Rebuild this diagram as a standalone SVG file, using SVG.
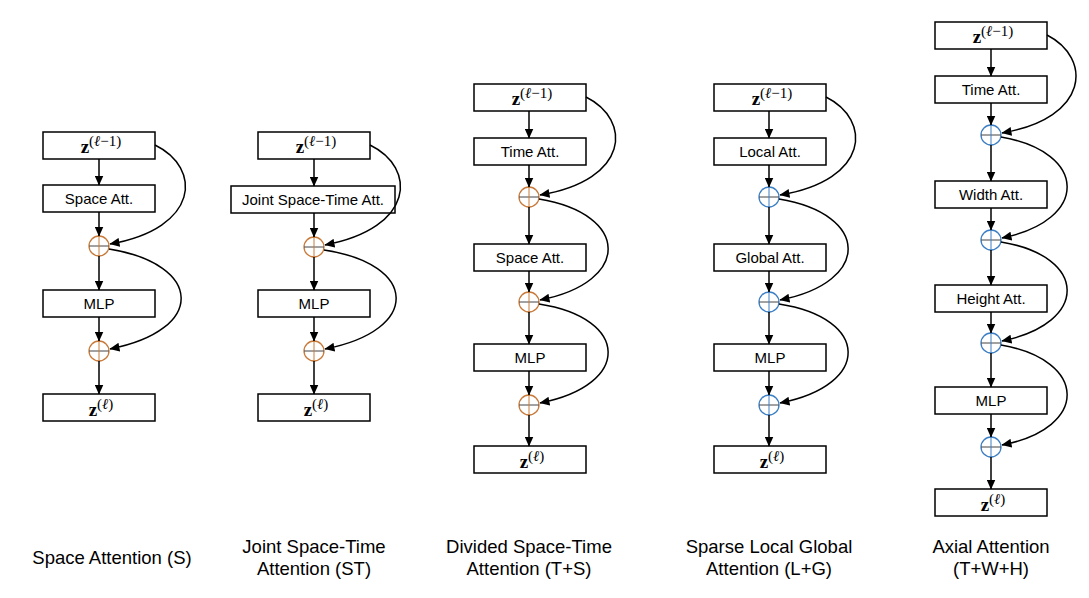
<svg xmlns="http://www.w3.org/2000/svg" width="1089" height="598" viewBox="0 0 1089 598">
<defs>
<marker id="ah" markerUnits="userSpaceOnUse" markerWidth="10" markerHeight="9" refX="9.5" refY="4.5" orient="auto">
<path d="M0,0 L10,4.5 L0,9 z" fill="#000"/>
</marker>
<style>
.box{fill:#fff;stroke:#000;stroke-width:1.5}
.lbl{font-family:"Liberation Sans",Arial,sans-serif;font-size:15px;fill:#000;text-anchor:middle}
.cap{font-family:"Liberation Sans",Arial,sans-serif;font-size:18.5px;fill:#000;text-anchor:middle}
.z{font-family:"Liberation Serif","Times New Roman",serif;font-size:19px;fill:#000;text-anchor:middle}
.zb{font-weight:bold}
.sup{font-size:15px}
.ell{font-style:italic}
.con{fill:none;stroke:#000;stroke-width:1.5}
.arr{fill:none;stroke:#000;stroke-width:1.5;marker-end:url(#ah)}
.po{fill:#fff;stroke:#c87a3a;stroke-width:1.3}
.pb{fill:#fff;stroke:#3d7fc4;stroke-width:1.3}
.cx{stroke:#444;stroke-width:1}
.cyo{stroke:#c87a3a;stroke-width:1}
.cyb{stroke:#3d7fc4;stroke-width:1}
</style>
</defs>
<rect width="1089" height="598" fill="#fff"/>

<!-- Column 1 -->
<g id="c1_zin"><rect class="box" x="43" y="132" width="112" height="27"/><text class="z" x="101" y="153"><tspan class="zb">z</tspan><tspan class="sup" dy="-7">(<tspan class="ell">ℓ</tspan>−1)</tspan></text></g>
<g id="c1_space"><rect class="box" x="43" y="185" width="112" height="27"/><text class="lbl" x="99" y="204">Space Att.</text></g>
<g id="c1_add1"><circle class="po" cx="99" cy="246" r="10"/><line class="cx" x1="89" y1="246" x2="109" y2="246"/><line class="cyo" x1="99" y1="236" x2="99" y2="256"/></g>
<g id="c1_mlp"><rect class="box" x="43" y="290" width="112" height="27"/><text class="lbl" x="99" y="309">MLP</text></g>
<g id="c1_add2"><circle class="po" cx="99" cy="351" r="10"/><line class="cx" x1="89" y1="351" x2="109" y2="351"/><line class="cyo" x1="99" y1="341" x2="99" y2="361"/></g>
<g id="c1_zout"><rect class="box" x="43" y="394" width="112" height="27"/><text class="z" x="101" y="416"><tspan class="zb">z</tspan><tspan class="sup" dy="-7">(<tspan class="ell">ℓ</tspan>)</tspan></text></g>
<g id="c1_cap"><text class="cap" x="112" y="564">Space Attention (S)</text></g>

<!-- Column 2 -->
<g id="c2_zin"><rect class="box" x="258" y="132" width="112" height="27"/><text class="z" x="316" y="153"><tspan class="zb">z</tspan><tspan class="sup" dy="-7">(<tspan class="ell">ℓ</tspan>−1)</tspan></text></g>
<g id="c2_joint"><rect class="box" x="231" y="186" width="164" height="27"/><text class="lbl" x="313" y="205">Joint Space-Time Att.</text></g>
<g id="c2_add1"><circle class="po" cx="314" cy="247" r="10"/><line class="cx" x1="304" y1="247" x2="324" y2="247"/><line class="cyo" x1="314" y1="237" x2="314" y2="257"/></g>
<g id="c2_mlp"><rect class="box" x="258" y="290" width="112" height="27"/><text class="lbl" x="314" y="309">MLP</text></g>
<g id="c2_add2"><circle class="po" cx="314" cy="351" r="10"/><line class="cx" x1="304" y1="351" x2="324" y2="351"/><line class="cyo" x1="314" y1="341" x2="314" y2="361"/></g>
<g id="c2_zout"><rect class="box" x="258" y="394" width="112" height="27"/><text class="z" x="316" y="416"><tspan class="zb">z</tspan><tspan class="sup" dy="-7">(<tspan class="ell">ℓ</tspan>)</tspan></text></g>
<g id="c2_cap"><text class="cap" x="314" y="553">Joint Space-Time</text><text class="cap" x="314" y="575">Attention (ST)</text></g>

<!-- Column 3 -->
<g id="c3_zin"><rect class="box" x="474" y="84" width="112" height="27"/><text class="z" x="532" y="105"><tspan class="zb">z</tspan><tspan class="sup" dy="-7">(<tspan class="ell">ℓ</tspan>−1)</tspan></text></g>
<g id="c3_time"><rect class="box" x="474" y="138" width="112" height="27"/><text class="lbl" x="530" y="157">Time Att.</text></g>
<g id="c3_add1"><circle class="po" cx="529" cy="197" r="10"/><line class="cx" x1="519" y1="197" x2="539" y2="197"/><line class="cyo" x1="529" y1="187" x2="529" y2="207"/></g>
<g id="c3_space"><rect class="box" x="474" y="244" width="112" height="27"/><text class="lbl" x="530" y="263">Space Att.</text></g>
<g id="c3_add2"><circle class="po" cx="529" cy="302" r="10"/><line class="cx" x1="519" y1="302" x2="539" y2="302"/><line class="cyo" x1="529" y1="292" x2="529" y2="312"/></g>
<g id="c3_mlp"><rect class="box" x="474" y="344" width="112" height="27"/><text class="lbl" x="530" y="363">MLP</text></g>
<g id="c3_add3"><circle class="po" cx="529" cy="405" r="10"/><line class="cx" x1="519" y1="405" x2="539" y2="405"/><line class="cyo" x1="529" y1="395" x2="529" y2="415"/></g>
<g id="c3_zout"><rect class="box" x="474" y="446" width="112" height="27"/><text class="z" x="532" y="468"><tspan class="zb">z</tspan><tspan class="sup" dy="-7">(<tspan class="ell">ℓ</tspan>)</tspan></text></g>
<g id="c3_cap"><text class="cap" x="529" y="553">Divided Space-Time</text><text class="cap" x="529" y="575">Attention (T+S)</text></g>

<!-- Column 4 -->
<g id="c4_zin"><rect class="box" x="714" y="84" width="112" height="27"/><text class="z" x="772" y="105"><tspan class="zb">z</tspan><tspan class="sup" dy="-7">(<tspan class="ell">ℓ</tspan>−1)</tspan></text></g>
<g id="c4_local"><rect class="box" x="714" y="138" width="112" height="27"/><text class="lbl" x="770" y="157">Local Att.</text></g>
<g id="c4_add1"><circle class="pb" cx="769" cy="197" r="10"/><line class="cx" x1="759" y1="197" x2="779" y2="197"/><line class="cyb" x1="769" y1="187" x2="769" y2="207"/></g>
<g id="c4_global"><rect class="box" x="714" y="244" width="112" height="27"/><text class="lbl" x="770" y="263">Global Att.</text></g>
<g id="c4_add2"><circle class="pb" cx="769" cy="302" r="10"/><line class="cx" x1="759" y1="302" x2="779" y2="302"/><line class="cyb" x1="769" y1="292" x2="769" y2="312"/></g>
<g id="c4_mlp"><rect class="box" x="714" y="344" width="112" height="27"/><text class="lbl" x="770" y="363">MLP</text></g>
<g id="c4_add3"><circle class="pb" cx="769" cy="405" r="10"/><line class="cx" x1="759" y1="405" x2="779" y2="405"/><line class="cyb" x1="769" y1="395" x2="769" y2="415"/></g>
<g id="c4_zout"><rect class="box" x="714" y="446" width="112" height="27"/><text class="z" x="772" y="468"><tspan class="zb">z</tspan><tspan class="sup" dy="-7">(<tspan class="ell">ℓ</tspan>)</tspan></text></g>
<g id="c4_cap"><text class="cap" x="769" y="553">Sparse Local Global</text><text class="cap" x="769" y="575">Attention (L+G)</text></g>

<!-- Column 5 -->
<g id="c5_zin"><rect class="box" x="935" y="22" width="112" height="27"/><text class="z" x="993" y="43"><tspan class="zb">z</tspan><tspan class="sup" dy="-7">(<tspan class="ell">ℓ</tspan>−1)</tspan></text></g>
<g id="c5_time"><rect class="box" x="935" y="76" width="112" height="27"/><text class="lbl" x="991" y="95">Time Att.</text></g>
<g id="c5_add1"><circle class="pb" cx="991" cy="135" r="10"/><line class="cx" x1="981" y1="135" x2="1001" y2="135"/><line class="cyb" x1="991" y1="125" x2="991" y2="145"/></g>
<g id="c5_width"><rect class="box" x="935" y="181" width="112" height="27"/><text class="lbl" x="991" y="200">Width Att.</text></g>
<g id="c5_add2"><circle class="pb" cx="991" cy="240" r="10"/><line class="cx" x1="981" y1="240" x2="1001" y2="240"/><line class="cyb" x1="991" y1="230" x2="991" y2="250"/></g>
<g id="c5_height"><rect class="box" x="935" y="285" width="112" height="27"/><text class="lbl" x="991" y="304">Height Att.</text></g>
<g id="c5_add3"><circle class="pb" cx="991" cy="343" r="10"/><line class="cx" x1="981" y1="343" x2="1001" y2="343"/><line class="cyb" x1="991" y1="333" x2="991" y2="353"/></g>
<g id="c5_mlp"><rect class="box" x="935" y="387" width="112" height="27"/><text class="lbl" x="991" y="406">MLP</text></g>
<g id="c5_add4"><circle class="pb" cx="991" cy="447" r="10"/><line class="cx" x1="981" y1="447" x2="1001" y2="447"/><line class="cyb" x1="991" y1="437" x2="991" y2="457"/></g>
<g id="c5_zout"><rect class="box" x="935" y="489" width="112" height="27"/><text class="z" x="993" y="511"><tspan class="zb">z</tspan><tspan class="sup" dy="-7">(<tspan class="ell">ℓ</tspan>)</tspan></text></g>
<g id="c5_cap"><text class="cap" x="991" y="553">Axial Attention</text><text class="cap" x="991" y="575">(T+W+H)</text></g>

<g id="connectors">
<!-- col1 -->
<line class="arr" x1="99" y1="159" x2="99" y2="185"/>
<line class="arr" x1="99" y1="212" x2="99" y2="236"/>
<line class="arr" x1="99" y1="256" x2="99" y2="290"/>
<line class="arr" x1="99" y1="317" x2="99" y2="341"/>
<line class="arr" x1="99" y1="361" x2="99" y2="394"/>
<path class="arr" d="M155,145 C202,168 200,228 110,244"/>
<path class="arr" d="M109,249 C203,264 207,330 110,349"/>
<!-- col2 -->
<line class="arr" x1="314" y1="159" x2="314" y2="186"/>
<line class="arr" x1="314" y1="213" x2="314" y2="237"/>
<line class="arr" x1="314" y1="257" x2="314" y2="290"/>
<line class="arr" x1="314" y1="317" x2="314" y2="341"/>
<line class="arr" x1="314" y1="361" x2="314" y2="394"/>
<path class="arr" d="M370,145 C417,168 415,228 325,245"/>
<path class="arr" d="M324,250 C418,264 422,330 325,349"/>
<!-- col3 -->
<line class="arr" x1="529" y1="111" x2="529" y2="138"/>
<line class="arr" x1="529" y1="165" x2="529" y2="187"/>
<line class="arr" x1="529" y1="207" x2="529" y2="244"/>
<line class="arr" x1="529" y1="271" x2="529" y2="292"/>
<line class="arr" x1="529" y1="312" x2="529" y2="344"/>
<line class="arr" x1="529" y1="371" x2="529" y2="395"/>
<line class="arr" x1="529" y1="415" x2="529" y2="446"/>
<path class="arr" d="M586,97 C632,120 630,180 540,195"/>
<path class="arr" d="M539,199 C630,214 632,282 540,300"/>
<path class="arr" d="M539,304 C630,318 632,385 540,403"/>
<!-- col4 -->
<line class="arr" x1="769" y1="111" x2="769" y2="138"/>
<line class="arr" x1="769" y1="165" x2="769" y2="187"/>
<line class="arr" x1="769" y1="207" x2="769" y2="244"/>
<line class="arr" x1="769" y1="271" x2="769" y2="292"/>
<line class="arr" x1="769" y1="312" x2="769" y2="344"/>
<line class="arr" x1="769" y1="371" x2="769" y2="395"/>
<line class="arr" x1="769" y1="415" x2="769" y2="446"/>
<path class="arr" d="M826,97 C872,120 870,180 780,195"/>
<path class="arr" d="M779,199 C870,214 872,282 780,300"/>
<path class="arr" d="M779,304 C870,318 872,385 780,403"/>
<!-- col5 -->
<line class="arr" x1="991" y1="49" x2="991" y2="76"/>
<line class="arr" x1="991" y1="103" x2="991" y2="125"/>
<line class="arr" x1="991" y1="145" x2="991" y2="181"/>
<line class="arr" x1="991" y1="208" x2="991" y2="230"/>
<line class="arr" x1="991" y1="250" x2="991" y2="285"/>
<line class="arr" x1="991" y1="312" x2="991" y2="333"/>
<line class="arr" x1="991" y1="353" x2="991" y2="387"/>
<line class="arr" x1="991" y1="414" x2="991" y2="437"/>
<line class="arr" x1="991" y1="457" x2="991" y2="489"/>
<path class="arr" d="M1047,35 C1092,58 1090,118 1002,133"/>
<path class="arr" d="M1001,137 C1088,152 1090,220 1002,238"/>
<path class="arr" d="M1001,242 C1088,256 1090,323 1002,341"/>
<path class="arr" d="M1001,345 C1088,360 1090,428 1002,445"/>
</g>
</svg>
